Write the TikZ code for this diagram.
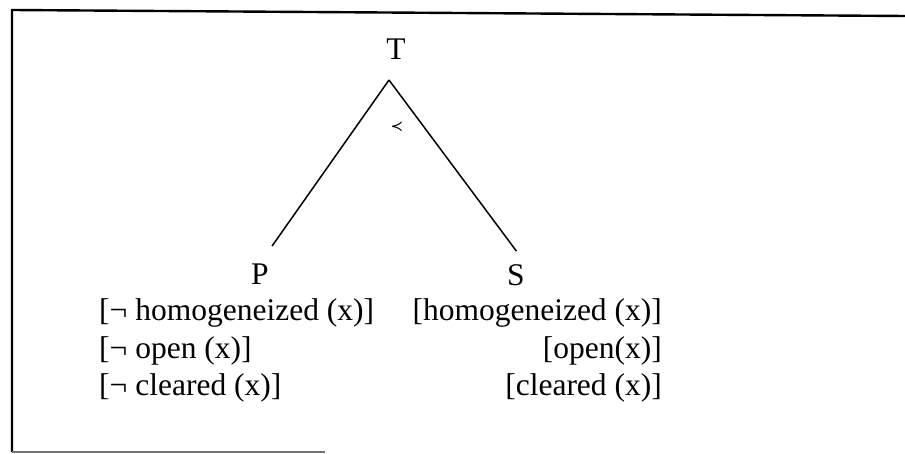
\documentclass[tikz,border=0pt]{standalone}
\usepackage{fontspec}
\setmainfont{Liberation Serif}
\newfontfamily\symfont{DejaVu Sans}

\begin{document}
\begin{tikzpicture}[
    x=1pt,
    y=-1pt,
    every node/.style={
      inner sep=1pt,
      font=\fontsize{31.5}{37}\selectfont
    },
    branch/.style={line width=1.5pt},
    frame/.style={line width=2.4pt}
  ]
    \useasboundingbox (0, 0) rectangle (905, 454);

    \draw[frame] (12, 452) -- (12, 10) -- (905, 16);
    \draw[line width=1.2pt, black!55] (12, 452) -- (325, 452);

    \node[anchor=base] (root) at (396, 60) {T};
    \node[anchor=base] (p) at (260, 285) {P};
    \node[anchor=base] (s) at (516, 286) {S};
    \coordinate (apex) at (389, 80);
    \node[font=\symfont\fontsize{15}{15}\selectfont] (prec) at (397, 127) {≺};

    \node[anchor=base west] (p_1) at (98, 321) {[¬ homogeneized (x)]};
    \node[anchor=base west] (p_2) at (98, 358) {[¬ open (x)]};
    \node[anchor=base west] (p_3) at (98, 395) {[¬ cleared (x)]};
    \node[anchor=base east] (s_1) at (663, 321) {[homogeneized (x)]};
    \node[anchor=base east] (s_2) at (663, 358) {[open(x)]};
    \node[anchor=base east] (s_3) at (663, 395) {[cleared (x)]};

    \draw[branch, shorten >=21pt] (apex) -- (p.north);
    \draw[branch, shorten >=16pt] (apex) -- (s.north east);

  \end{tikzpicture}
\end{document}
